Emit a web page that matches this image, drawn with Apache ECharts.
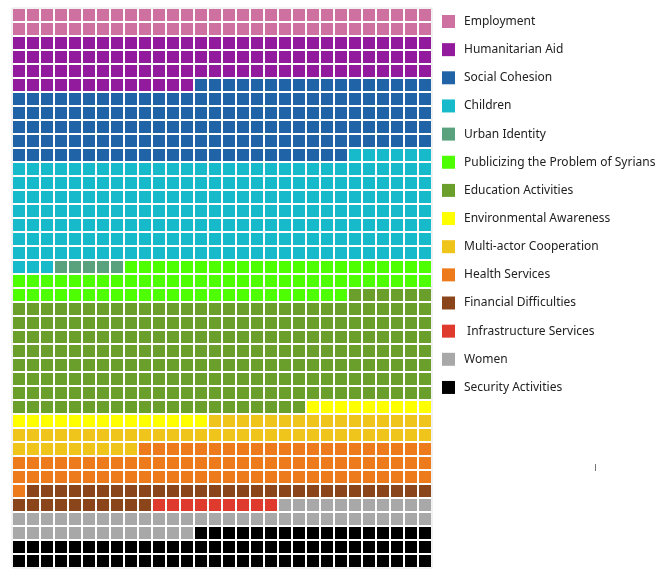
<!DOCTYPE html>
<html>
<head>
<meta charset="utf-8">
<script src="https://cdn.jsdelivr.net/npm/echarts@6/dist/echarts.min.js"></script>
<style>
html,body{margin:0;padding:0;background:#fff;}
#chart{width:656px;height:570px;}
</style>
</head>
<body>
<div id="chart"></div>
<script>
const categories = [
  "Employment", "Humanitarian Aid", "Social Cohesion", "Children", "Urban Identity",
  "Publicizing the Problem of Syrians", "Education Activities", "Environmental Awareness",
  "Multi-actor Cooperation", "Health Services", "Financial Difficulties",
  " Infrastructure Services", "Women", "Security Activities"
];
const counts = [60, 103, 161, 219, 5, 76, 237, 23, 55, 82, 39, 9, 54, 77];
const colors = [
  "#cf71a0", "#921a9c", "#2064a7", "#16bacb", "#5aa27e",
  "#4dff00", "#6a9f2c", "#ffff00", "#efc51b", "#ed7a1b",
  "#8a461a", "#de3a2d", "#a8a8a8", "#000000"
];
const COLS = 30, ROWS = 40;

let idx = 0;
const series = categories.map((name, i) => {
  const data = [];
  for (let k = 0; k < counts[i]; k++) {
    const col = idx % COLS, row = Math.floor(idx / COLS);
    data.push([col + 0.5, row + 0.5]);
    idx++;
  }
  return {
    name: name,
    type: 'scatter',
    symbol: 'rect',
    symbolSize: 12,
    data: data,
    itemStyle: { color: colors[i], opacity: 1 },
    emphasis: { disabled: true },
    silent: true
  };
});

const chart = echarts.init(document.getElementById('chart'));
chart.setOption({
  animation: false,
  backgroundColor: '#fff',
  grid: { left: 12, top: 8, width: 420, height: 560, show: true, borderColor: '#e4e4e4', borderWidth: 1 },
  xAxis: { type: 'value', min: 0, max: COLS, show: false },
  yAxis: { type: 'value', min: 0, max: ROWS, inverse: true, show: false },
  legend: {
    orient: 'vertical',
    left: 442,
    top: 15,
    padding: 0,
    icon: 'rect',
    itemWidth: 13,
    itemHeight: 13,
    itemGap: 15.15,
    data: categories,
    textStyle: { fontFamily: 'Noto Sans', fontSize: 12, color: '#222', padding: [0, 0, 0, 4] }
  },
  graphic: [{
    type: 'line',
    shape: { x1: 595.5, y1: 464, x2: 595.5, y2: 471 },
    style: { stroke: '#777', lineWidth: 1 }
  }],
  series: series
});
</script>
</body>
</html>
